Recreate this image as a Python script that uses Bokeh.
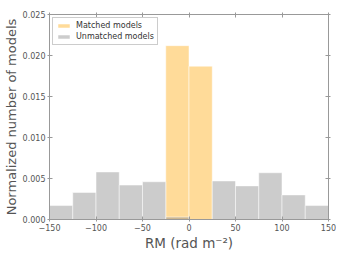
from bokeh.plotting import figure
from bokeh.models import LinearAxis, FixedTicker, Legend, LegendItem, NumeralTickFormatter, CustomJSTickFormatter
from bokeh.embed import file_html
from bokeh.resources import INLINE

bin_edges = [-150, -125, -100, -75, -50, -25, 0, 25, 50, 75, 100, 125, 150]
matched = [0, 0, 0, 0, 0, 0.0212, 0.0187, 0, 0, 0, 0, 0]
unmatched = [0.0017, 0.0033, 0.0058, 0.0042, 0.0046, 0.0003, 0.0, 0.0047, 0.0041, 0.0057, 0.0030, 0.0017]
x_ticks = [-150, -100, -50, 0, 50, 100, 150]
y_ticks = [0.0, 0.005, 0.010, 0.015, 0.020, 0.025]
series_labels = ["Matched models", "Unmatched models"]
x_label = "RM (rad m\u207b\u00b2)"
y_label = "Normalized number of models"

AX = "#999999"
TXT = "#555555"

p = figure(frame_width=279, frame_height=205, x_range=(-150, 150), y_range=(0, 0.025),
           output_backend="svg", toolbar_location=None,
           min_border_top=14, min_border_right=8, min_border_bottom=0, min_border_left=0)
p.xgrid.visible = False
p.ygrid.visible = False
p.outline_line_color = AX
p.background_fill_color = "white"

lefts = bin_edges[:-1]
rights = bin_edges[1:]
r_m = p.quad(left=lefts, right=rights, bottom=0, top=matched,
             fill_color="orange", fill_alpha=0.4, line_color="white", line_alpha=0.5, line_width=1)
r_u = p.quad(left=lefts, right=rights, bottom=0, top=unmatched,
             fill_color="gray", fill_alpha=0.4, line_color="white", line_alpha=0.5, line_width=1)

def style(ax, labels=True):
    ax.axis_line_color = AX
    ax.major_tick_line_color = AX
    ax.minor_tick_line_color = None
    ax.major_tick_in = 3
    ax.major_tick_out = 2
    ax.major_label_text_font = "DejaVu Sans"
    ax.major_label_text_font_size = "8px"
    ax.major_label_text_color = TXT
    ax.major_label_standoff = 2
    if not labels:
        ax.formatter = CustomJSTickFormatter(code="return ''")
        ax.major_label_standoff = 0

xt = FixedTicker(ticks=x_ticks)
yt = FixedTicker(ticks=y_ticks)

p.xaxis.ticker = xt
p.xaxis.major_label_overrides = {t: (str(t).replace("-", "\u2212")) for t in x_ticks}
style(p.xaxis[0])
p.xaxis.axis_label = x_label
p.xaxis.axis_label_text_font = "DejaVu Sans"
p.xaxis.axis_label_text_font_style = "normal"
p.xaxis.axis_label_text_font_size = "13.5px"
p.xaxis.axis_label_text_color = TXT
p.xaxis.axis_label_standoff = 1

p.yaxis.ticker = yt
p.yaxis.formatter = NumeralTickFormatter(format="0.000")
style(p.yaxis[0])
p.yaxis.axis_label = y_label
p.yaxis.axis_label_text_font = "DejaVu Sans"
p.yaxis.axis_label_text_font_style = "normal"
p.yaxis.axis_label_text_font_size = "13px"
p.yaxis.axis_label_text_color = TXT
p.yaxis.axis_label_standoff = 1

top_ax = LinearAxis(ticker=xt)
style(top_ax, labels=False)
p.add_layout(top_ax, "above")
right_ax = LinearAxis(ticker=yt)
style(right_ax, labels=False)
p.add_layout(right_ax, "right")

legend = Legend(items=[LegendItem(label=series_labels[0], renderers=[r_m]),
                       LegendItem(label=series_labels[1], renderers=[r_u])],
                location="top_left")
legend.label_text_font = "DejaVu Sans"
legend.label_text_font_size = "8px"
legend.label_text_color = "#333333"
legend.label_height = 9
legend.glyph_height = 5
legend.glyph_width = 15
legend.spacing = 2
legend.padding = 3
legend.margin = 3
legend.label_standoff = 5
legend.border_line_color = AX
legend.background_fill_alpha = 1
p.add_layout(legend)

open("out.html", "w").write(file_html(p, INLINE))
